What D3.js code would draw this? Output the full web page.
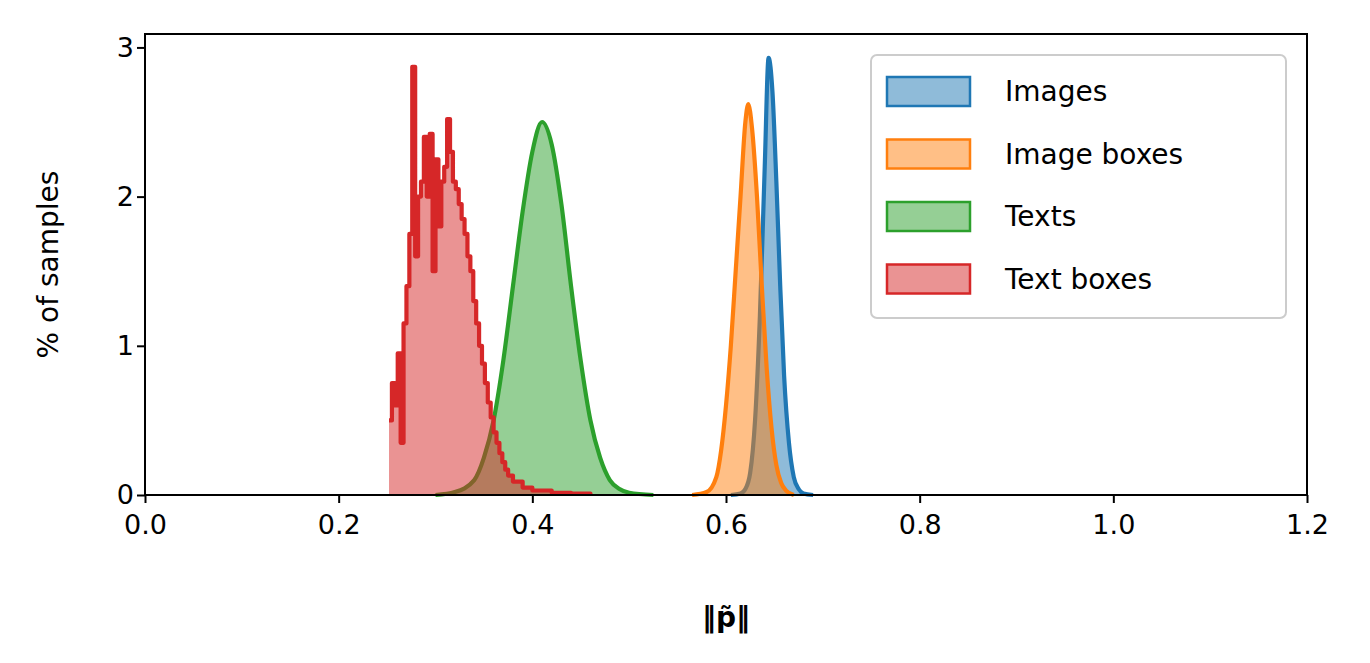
<!DOCTYPE html><html><head><meta charset="utf-8"><script src="https://cdn.jsdelivr.net/npm/d3@7"></script>
<style>body{margin:0;background:#fff}text{font-family:"DejaVu Sans",sans-serif}</style></head><body><svg id="c" width="1370" height="663"></svg>
<script>
const seriesNames=["Images","Image boxes","Texts","Text boxes"];
const colors=["#1f77b4","#ff7f0e","#2ca02c","#d62728"];
const imagesX=[0.605,0.615,0.62,0.625,0.63,0.635,0.64,0.644,0.648,0.652,0.656,0.66,0.665,0.67,0.675,0.68,0.69];
const imagesY=[0,0.01,0.04,0.15,0.5,1.2,2.2,2.93,2.7,2.1,1.4,0.8,0.35,0.12,0.04,0.01,0];
const imgBoxX=[0.565,0.58,0.59,0.595,0.6,0.605,0.61,0.615,0.62,0.623,0.627,0.632,0.637,0.642,0.647,0.652,0.657,0.662,0.67];
const imgBoxY=[0,0.02,0.12,0.3,0.6,1.0,1.5,2.0,2.5,2.62,2.45,2.0,1.4,0.85,0.45,0.2,0.08,0.03,0];
const textsX=[0.30,0.32,0.34,0.35,0.36,0.37,0.38,0.39,0.40,0.41,0.42,0.43,0.44,0.45,0.46,0.47,0.48,0.49,0.50,0.525];
const textsY=[0,0.02,0.1,0.25,0.5,0.9,1.4,1.9,2.3,2.5,2.35,1.95,1.4,0.9,0.5,0.25,0.1,0.04,0.015,0];
const txtBoxX=[0.252,0.255,0.258,0.261,0.264,0.267,0.27,0.273,0.276,0.279,0.282,0.285,0.288,0.291,0.294,0.297,0.3,0.303,0.306,0.309,0.312,0.315,0.318,0.321,0.324,0.327,0.33,0.333,0.336,0.339,0.342,0.345,0.348,0.351,0.354,0.357,0.36,0.363,0.366,0.369,0.372,0.375,0.38,0.39,0.40,0.42,0.44,0.46];
const txtBoxY=[0.5,0.75,0.6,0.95,0.35,1.15,1.4,1.75,2.87,1.6,2.0,2.1,2.4,2.0,2.42,1.5,2.25,1.8,2.1,2.2,2.52,2.3,2.1,2.05,1.95,1.85,1.75,1.6,1.5,1.3,1.15,1.0,0.88,0.75,0.62,0.52,0.42,0.35,0.28,0.22,0.17,0.13,0.09,0.05,0.03,0.015,0.01,0];
const xTicks=[0,0.2,0.4,0.6,0.8,1.0,1.2], yTicks=[0,1,2,3];
const svg=d3.select("#c");
const L=145,R=1307,T=34,B=495;
const x=d3.scaleLinear().domain([0,1.2]).range([L,R]);
const y=d3.scaleLinear().domain([0,3.09]).range([B,T]);
const data=[[imagesX,imagesY,d3.curveMonotoneX],[imgBoxX,imgBoxY,d3.curveMonotoneX],[textsX,textsY,d3.curveMonotoneX],[txtBoxX,txtBoxY,d3.curveStepAfter]];
data.forEach(([xs,ys,cv],i)=>{
 const pts=xs.map((v,j)=>[v,ys[j]]);
 svg.append("path").datum(pts).attr("d",d3.area().x(d=>x(d[0])).y0(B).y1(d=>y(d[1])).curve(cv)).attr("fill",colors[i]).attr("fill-opacity",0.5);
 svg.append("path").datum(pts).attr("d",d3.line().x(d=>x(d[0])).y(d=>y(d[1])).curve(cv)).attr("fill","none").attr("stroke",colors[i]).attr("stroke-width",4.2).attr("stroke-linejoin","round");
});
svg.append("rect").attr("x",L).attr("y",T).attr("width",R-L).attr("height",B-T).attr("fill","none").attr("stroke","#000").attr("stroke-width",2);
const xa=svg.append("g").attr("transform",`translate(0,${B})`).call(d3.axisBottom(x).tickValues(xTicks).tickFormat(d3.format(".1f")).tickSize(8).tickSizeOuter(0));
const ya=svg.append("g").attr("transform",`translate(${L},0)`).call(d3.axisLeft(y).tickValues(yTicks).tickFormat(d3.format("d")).tickSize(8).tickSizeOuter(0));
[xa,ya].forEach(a=>{a.select(".domain").remove();a.selectAll("line").attr("stroke-width",2);a.selectAll("text").attr("font-size",27).attr("font-family","DejaVu Sans").attr("fill","#000");});
xa.selectAll("text").attr("dy","1.05em");
svg.append("text").attr("x",(L+R)/2).attr("y",627).attr("text-anchor","middle").attr("font-size",28).attr("font-weight","bold").text("‖p̃‖");
svg.append("text").attr("transform",`translate(58,${(T+B)/2}) rotate(-90)`).attr("text-anchor","middle").attr("font-size",28).text("% of samples");
const lg=svg.append("g");
lg.append("rect").attr("x",871).attr("y",55).attr("width",415).attr("height",263).attr("rx",6).attr("fill","#fff").attr("fill-opacity",0.8).attr("stroke","#ccc").attr("stroke-width",2);
seriesNames.forEach((n,i)=>{
 const yy=91+i*62.5;
 lg.append("rect").attr("x",887).attr("y",yy-14).attr("width",83).attr("height",29).attr("fill",colors[i]).attr("fill-opacity",0.5).attr("stroke",colors[i]).attr("stroke-width",2.5);
 lg.append("text").attr("x",1005).attr("y",yy+10).attr("font-size",28).text(n);
});
</script></body></html>
